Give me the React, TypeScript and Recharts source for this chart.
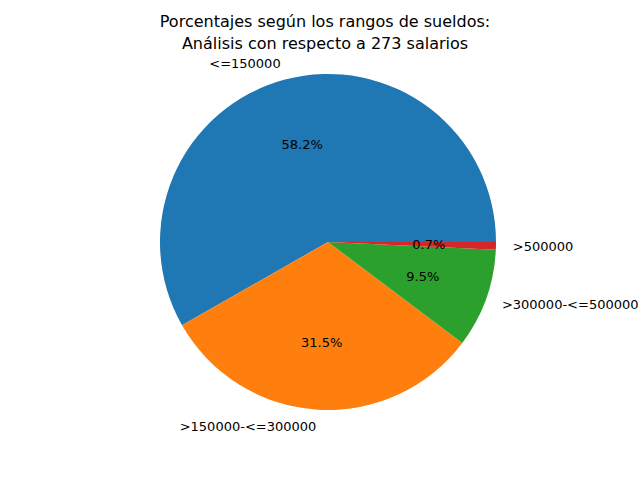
import { PieChart, Pie, Cell } from 'recharts';

const categories = ['<=150000', '>150000-<=300000', '>300000-<=500000', '>500000'];
const counts = [159, 86, 26, 2];
const colors = ['#1f77b4', '#ff7f0e', '#2ca02c', '#d62728'];

const data = categories.map((name, i) => ({ name, value: counts[i] }));

const RAD = Math.PI / 180;

function renderLabel(props: any) {
  const { cx, cy, midAngle, outerRadius, percent, name } = props;
  const cos = Math.cos(-midAngle * RAD);
  const sin = Math.sin(-midAngle * RAD);
  const lx = cx + outerRadius * 1.1 * cos;
  const ly = cy + outerRadius * 1.1 * sin;
  const px = cx + outerRadius * 0.6 * cos;
  const py = cy + outerRadius * 0.6 * sin;
  return (
    <g>
      <text x={lx} y={ly} textAnchor={cos >= 0 ? 'start' : 'end'} dominantBaseline="central" fontSize={13} fill="#000">
        {name}
      </text>
      <text x={px} y={py} textAnchor="middle" dominantBaseline="central" fontSize={13} fill="#000">
        {(percent * 100).toFixed(1)}%
      </text>
    </g>
  );
}

export default function App() {
  return (
    <div style={{ position: 'absolute', left: 0, top: 0, width: 640, height: 480, background: '#fff', fontFamily: 'DejaVu Sans' }}>
      <PieChart width={640} height={480} margin={{ top: 0, right: 0, bottom: 0, left: 0 }}>
        <text x={325} y={21} textAnchor="middle" dominantBaseline="central" fontSize={16} fill="#000">
          Porcentajes según los rangos de sueldos:
        </text>
        <text x={325} y={43} textAnchor="middle" dominantBaseline="central" fontSize={16} fill="#000">
          Análisis con respecto a 273 salarios
        </text>
        <Pie
          data={data}
          dataKey="value"
          nameKey="name"
          cx={328}
          cy={242}
          outerRadius={168}
          startAngle={0}
          endAngle={360}
          stroke="none"
          label={renderLabel}
          labelLine={false}
          isAnimationActive={false}
        >
          {data.map((d, i) => (
            <Cell key={d.name} fill={colors[i]} />
          ))}
        </Pie>
      </PieChart>
    </div>
  );
}
